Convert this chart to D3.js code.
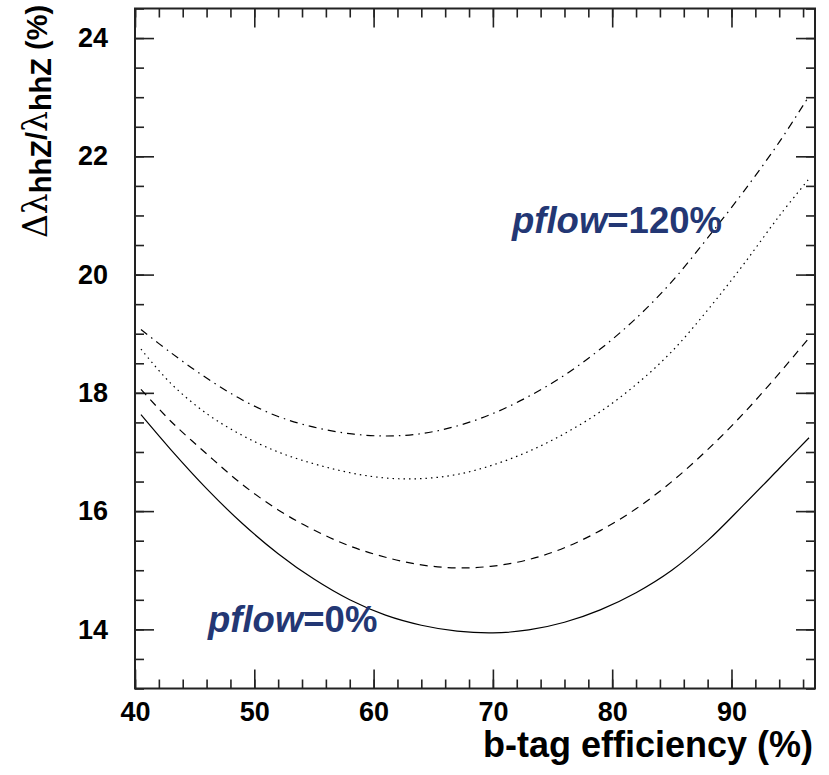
<!DOCTYPE html>
<meta charset="utf-8" />
<style>
  body { margin: 0; background: #fff; }
  text { font-family: "Liberation Sans", Arial, Helvetica, sans-serif; font-weight: bold; }
</style>
<svg width="829" height="775"></svg>
<script src="https://d3js.org/d3.v7.min.js"></script>
<script>
    var svg = d3.select("svg");

    // b-tag efficiency (%) and the four curves
    var btagEff = [40.5, 43, 46, 49, 52, 55, 58, 61, 64, 67, 70, 73, 76, 79, 82, 85, 88, 91, 94, 96.5];
    var pflow0   = [17.63, 17.04, 16.38, 15.79, 15.28, 14.85, 14.50, 14.24, 14.07, 13.97, 13.94, 13.99, 14.12, 14.33, 14.62, 15.00, 15.50, 16.10, 16.72, 17.24];
    var pflowB   = [18.06, 17.52, 16.97, 16.45, 16.02, 15.68, 15.41, 15.22, 15.09, 15.04, 15.07, 15.18, 15.38, 15.67, 16.04, 16.50, 17.04, 17.65, 18.33, 18.93];
    var pflowC   = [18.74, 18.16, 17.65, 17.28, 17.00, 16.80, 16.65, 16.56, 16.55, 16.62, 16.78, 17.01, 17.31, 17.68, 18.14, 18.70, 19.40, 20.17, 20.99, 21.62];
    var pflow120 = [19.07, 18.68, 18.25, 17.88, 17.60, 17.42, 17.31, 17.27, 17.31, 17.44, 17.65, 17.94, 18.30, 18.74, 19.26, 19.88, 20.62, 21.40, 22.24, 23.02];

    var xMajor = [40, 50, 60, 70, 80, 90];
    var xMinor = d3.range(40, 97, 2);
    var yMajor = [14, 16, 18, 20, 22, 24];
    var yMinor = d3.range(13, 24.51, 0.5);

    var curves = [
        { values: pflow0,   dash: null },
        { values: pflowB,   dash: "8,6" },
        { values: pflowC,   dash: "1.5,4" },
        { values: pflow120, dash: "8,5,1.5,5" }
    ];

    // "top" is taken by window.top, so use other names
    var fLeft = 135, fRight = 815, fTop = 8.5, fBottom = 688.5;

    var x = d3.scaleLinear().domain([40, 97]).range([fLeft, fRight]);
    var y = d3.scaleLinear().domain([13, 24.5]).range([fBottom, fTop]);

    // ticks, all pointing inwards, on every side
    function tickAxis(axis, scale, vals, size, tx, ty, labels) {
        var a = axis(scale).tickValues(vals).tickSizeInner(-size).tickSizeOuter(0)
            .tickPadding(13);
        if (!labels) a.tickFormat("");
        var g = svg.append("g").attr("transform", "translate(" + tx + "," + ty + ")").call(a);
        g.select(".domain").remove();
        g.selectAll("line").attr("stroke", "#222").attr("stroke-width", 1.6);
        return g;
    }

    tickAxis(d3.axisBottom, x, xMinor, 9, 0, fBottom, false);
    var xb = tickAxis(d3.axisBottom, x, xMajor, 19, 0, fBottom, true);
    xb.selectAll("text").attr("font-size", 27).attr("fill", "#000");
    tickAxis(d3.axisTop, x, xMinor, 9, 0, fTop, false);
    tickAxis(d3.axisTop, x, xMajor, 19, 0, fTop, false);

    tickAxis(d3.axisLeft, y, yMinor, 9, fLeft, 0, false);
    var yl = tickAxis(d3.axisLeft, y, yMajor, 19, fLeft, 0, true);
    yl.selectAll("text").attr("font-size", 27).attr("fill", "#000").attr("x", -27);
    tickAxis(d3.axisRight, y, yMinor, 9, fRight, 0, false);
    tickAxis(d3.axisRight, y, yMajor, 19, fRight, 0, false);

    svg.append("rect")
        .attr("x", fLeft).attr("y", fTop)
        .attr("width", fRight - fLeft).attr("height", fBottom - fTop)
        .attr("fill", "none").attr("stroke", "#222").attr("stroke-width", 2);

    var line = d3.line()
        .x(function(d, i) { return x(btagEff[i]); })
        .y(function(d) { return y(d); })
        .curve(d3.curveCatmullRom);

    svg.append("g").selectAll("path")
        .data(curves)
        .enter()
        .append("path")
        .attr("d", function(d) { return line(d.values); })
        .attr("fill", "none")
        .attr("stroke", "#000")
        .attr("stroke-width", 1.2)
        .attr("stroke-dasharray", function(d) { return d.dash; });

    // labels
    var navy = "#233774";
    var l0 = svg.append("text").attr("x", 208).attr("y", 632).attr("font-size", 36.5).attr("fill", navy);
    l0.append("tspan").attr("font-style", "italic").text("pflow");
    l0.append("tspan").text("=0%");

    var l1 = svg.append("text").attr("x", 512).attr("y", 233).attr("font-size", 36.5).attr("fill", navy);
    l1.append("tspan").attr("font-style", "italic").text("pflow");
    l1.append("tspan").text("=120%");

    svg.append("text")
        .attr("x", 813).attr("y", 757)
        .attr("text-anchor", "end")
        .attr("font-size", 36)
        .text("b-tag efficiency (%)");

    var yt = svg.append("text")
        .attr("transform", "translate(47,238) rotate(-90)")
        .attr("font-size", 29);
    yt.append("tspan").attr("font-family", "DejaVu Serif").attr("font-weight", "normal").attr("font-size", 33).text("Δλ");
    yt.append("tspan").attr("dy", 4).text("hhZ");
    yt.append("tspan").attr("dy", -4).text("/");
    yt.append("tspan").attr("font-family", "DejaVu Serif").attr("font-weight", "normal").attr("font-size", 33).text("λ");
    yt.append("tspan").attr("dy", 4).text("hhZ");
    yt.append("tspan").attr("dy", -4).text(" (%)");
</script>
